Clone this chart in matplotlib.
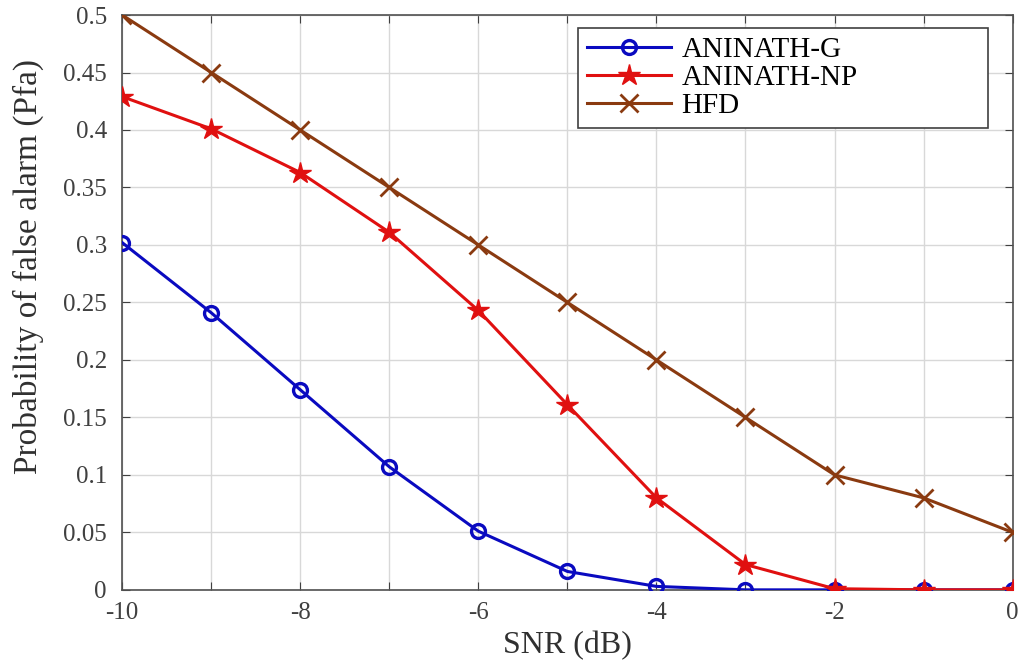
import matplotlib
matplotlib.use('Agg')
from matplotlib import pyplot as plt

# SNR points and Pfa curves
snr = [-10, -9, -8, -7, -6, -5, -4, -3, -2, -1, 0]
pfa_g = [0.302, 0.241, 0.174, 0.107, 0.051, 0.016, 0.003, 0.0, 0.0, 0.0, 0.0]
pfa_np = [0.429, 0.401, 0.363, 0.311, 0.243, 0.161, 0.080, 0.022, 0.001, 0.0, 0.0]
pfa_hfd = [0.50, 0.45, 0.40, 0.35, 0.30, 0.25, 0.20, 0.15, 0.10, 0.08, 0.05]

y_ticks = [0, 0.05, 0.1, 0.15, 0.2, 0.25, 0.3, 0.35, 0.4, 0.45, 0.5]
y_tick_labels = ['0', '0.05', '0.1', '0.15', '0.2', '0.25', '0.3', '0.35', '0.4', '0.45', '0.5']

plt.rcParams['font.family'] = ['Liberation Serif', 'DejaVu Serif']

fig = plt.figure(figsize=(10.27, 6.68), dpi=100)
ax = fig.add_axes([0.119, 0.117, 0.867, 0.8605])

ax.plot(snr, pfa_hfd, color='#8a3a10', lw=2.2, marker='x', ms=13, mew=2,
        label='HFD', zorder=3)
ax.plot(snr, pfa_g, color='#0a0ac0', lw=2.2, marker='o', ms=10, mew=2.4,
        mfc='none', label='ANINATH-G', zorder=4)
ax.plot(snr, pfa_np, color='#e01010', lw=2.2, marker='*', ms=16, mew=1,
        label='ANINATH-NP', zorder=5)

ax.set_xlim(-10, 0)
ax.set_ylim(0, 0.5)
ax.set_xticks(snr)
ax.set_xticklabels([str(s) if s % 2 == 0 else '' for s in snr])
ax.set_yticks(y_ticks)
ax.set_yticklabels(y_tick_labels)
ax.tick_params(direction='in', top=True, right=True, labelsize=18,
               labelcolor='#404040', length=6, color='#404040')
ax.tick_params(axis='y', pad=11)
ax.tick_params(axis='x', pad=9)
ax.grid(True, color='#d8d8d8', lw=1)
for sp in ax.spines.values():
    sp.set_color('#505050')
    sp.set_linewidth(1.2)

ax.set_xlabel('SNR (dB)', fontsize=23, color='#303030', labelpad=5)
ax.set_ylabel('Probability of false alarm (Pfa)', fontsize=24, color='#303030')
ax.yaxis.set_label_coords(-0.088, 0.562)

handles, labels = ax.get_legend_handles_labels()
order = [1, 2, 0]
leg = ax.legend([handles[i] for i in order], [labels[i] for i in order],
                loc='upper left', bbox_to_anchor=(0.512, 0.0, 0.46, 0.977),
                mode='expand', fontsize=21,
                fancybox=False, framealpha=1, edgecolor='#404040',
                handlelength=2.9, borderpad=0.3, labelspacing=0.05,
                handletextpad=0.35, borderaxespad=0)
leg.get_frame().set_linewidth(1.2)

fig.savefig('out.png', dpi=100)
